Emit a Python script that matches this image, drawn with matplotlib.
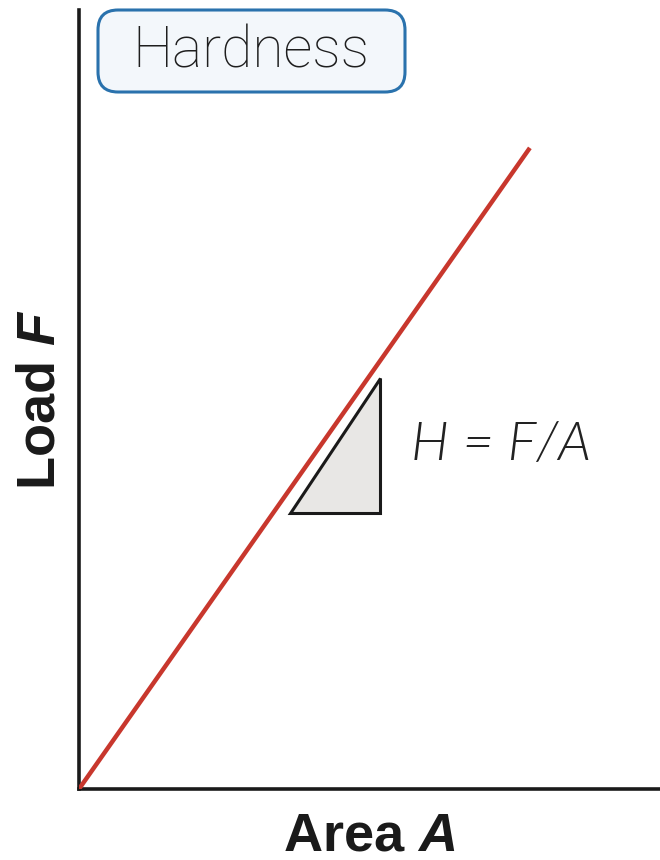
import numpy as np
import matplotlib
matplotlib.use("Agg")
import matplotlib.pyplot as plt
from matplotlib.patches import FancyBboxPatch

plt.rcParams["mathtext.fontset"] = "custom"
plt.rcParams["mathtext.rm"] = "Liberation Sans:bold"
plt.rcParams["mathtext.bf"] = "Liberation Sans:bold"
plt.rcParams["mathtext.it"] = "Liberation Sans:italic:bold"
plt.rcParams["mathtext.bfit"] = "Liberation Sans:italic:bold"

# data (axes units 0..1)
line_x = [0.0, 0.776]
line_y = [0.0, 0.823]
tri_x = [0.363, 0.518, 0.518, 0.363]
tri_y = [0.354, 0.354, 0.528, 0.354]
title = "Hardness"
formula = "H = F/A"
xlabel = "Area $\\mathit{A}$"
ylabel = "Load $\\mathit{F}$"

fig = plt.figure(figsize=(6.6, 8.6), dpi=100)
ax = fig.add_axes([79 / 660, 71 / 860, 581 / 660, 779 / 860])
ax.set_xlim(0, 1)
ax.set_ylim(0, 1)

ax.plot(line_x, line_y, color="#c8372d", lw=3.2, solid_capstyle="butt", zorder=3)
ax.fill(tri_x, tri_y, facecolor="#e8e7e5", edgecolor="#1a1a1a", lw=2.2,
        joinstyle="miter", zorder=2)

ax.text(0.727, 0.441, formula, fontsize=39, style="italic", family="Lato",
        fontweight=300, color="#222222", ha="center", va="center")

# title box, in inches from the figure's lower left
box = FancyBboxPatch((0.98, 7.68), 3.07, 0.82,
                     boxstyle="round,pad=0,rounding_size=0.2",
                     transform=fig.dpi_scale_trans, facecolor="#f3f7fb",
                     edgecolor="#2a72ad", lw=2.2, zorder=4)
fig.add_artist(box)
fig.text(2.51 / 6.6, 8.08 / 8.6, title, fontsize=41, family="Roboto",
         fontweight="light", color="#1e1e1e", ha="center", va="center",
         zorder=5)

for side in ["top", "right"]:
    ax.spines[side].set_visible(False)
for side in ["left", "bottom"]:
    ax.spines[side].set_linewidth(2.6)
    ax.spines[side].set_color("#1a1a1a")
ax.set_xticks([])
ax.set_yticks([])

ax.set_xlabel(xlabel, fontsize=39, fontweight="bold", family="Liberation Sans",
              color="#1a1a1a", labelpad=16)
ax.set_ylabel(ylabel, fontsize=39, fontweight="bold", family="Liberation Sans",
              color="#1a1a1a", labelpad=10)

fig.savefig("out.png", dpi=100)
